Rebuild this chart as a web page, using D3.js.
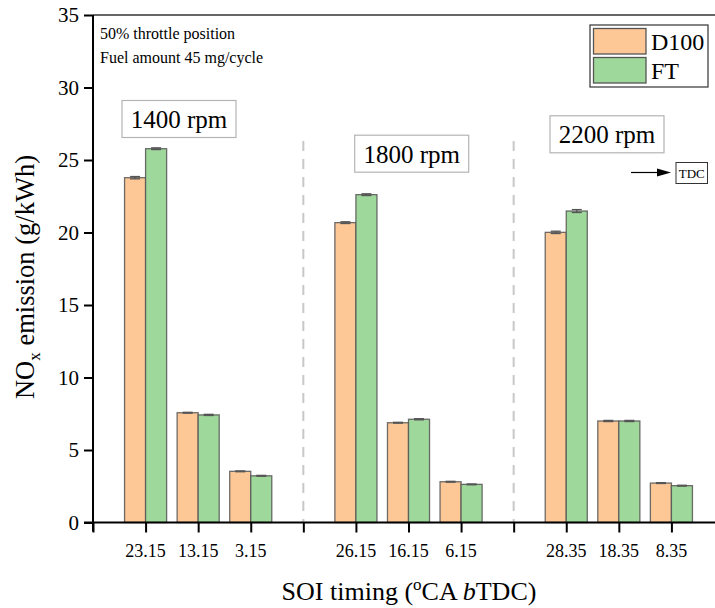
<!DOCTYPE html>
<html>
<head>
<meta charset="utf-8">
<script src="https://cdn.jsdelivr.net/npm/d3@7"></script>
<style>
  body { margin: 0; background: #fff; }
  svg text { font-family: "Liberation Serif", "Times New Roman", serif; }
</style>
</head>
<body>
<div id="chart"></div>
<script>
// SOI timings per engine speed (3 per group)
const speeds = ["1400 rpm", "1800 rpm", "2200 rpm"];
const soiLabels = ["23.15", "13.15", "3.15", "26.15", "16.15", "6.15", "28.35", "18.35", "8.35"];
const seriesNames = ["D100", "FT"];
const d100 = [23.78, 7.57, 3.53, 20.68, 6.88, 2.81, 20.01, 7.0, 2.72];
const ft = [25.78, 7.42, 3.22, 22.61, 7.12, 2.63, 21.48, 7.0, 2.54];
const d100Err = [0.08, 0.03, 0.03, 0.06, 0.03, 0.03, 0.08, 0.04, 0.03];
const ftErr = [0.06, 0.04, 0.03, 0.06, 0.04, 0.03, 0.1, 0.04, 0.03];
const yTicks = [0, 5, 10, 15, 20, 25, 30, 35];

const W = 715, H = 608;
const FONT = "Liberation Serif";
const colors = {D100: "#fdc896", FT: "#9fd89b"};

const svg = d3.select("#chart").append("svg")
    .attr("width", W)
    .attr("height", H)
    .attr("font-family", FONT);

// slot 0,4,8,12 are blank separators; bars sit on the others
const slot = i => Math.floor(i / 3) * 4 + (i % 3) + 1;

const x = d3.scaleLinear().domain([0, 12]).range([93, 724]);
const y = d3.scaleLinear().domain([0, 35]).range([522.5, 15]);
const barW = (x(1) - x(0)) * 0.4;

const rows = [];
soiLabels.forEach((s, i) => {
    rows.push({series: "D100", i, v: d100[i], e: d100Err[i]});
    rows.push({series: "FT", i, v: ft[i], e: ftErr[i]});
});

// dashed separators between speed groups
svg.selectAll(".sep")
    .data([4, 8])
    .enter().append("line")
    .attr("x1", d => x(d)).attr("x2", d => x(d))
    .attr("y1", 141).attr("y2", y(0))
    .attr("stroke", "#c8c8c8")
    .attr("stroke-width", 2)
    .attr("stroke-dasharray", "10,8");

// bars
svg.selectAll(".bar")
    .data(rows)
    .enter().append("rect")
    .attr("x", d => d.series === "D100" ? x(slot(d.i)) - barW : x(slot(d.i)))
    .attr("y", d => y(d.v))
    .attr("width", barW)
    .attr("height", d => y(0) - y(d.v))
    .attr("fill", d => colors[d.series])
    .attr("stroke", "#555")
    .attr("stroke-opacity", 0.85)
    .attr("stroke-width", 1.3);

// error bars
const eb = svg.selectAll(".err")
    .data(rows)
    .enter().append("g")
    .attr("transform", d => `translate(${d.series === "D100" ? x(slot(d.i)) - barW / 2 : x(slot(d.i)) + barW / 2},0)`)
    .attr("stroke", "#555")
    .attr("stroke-width", 1.3);
eb.append("line").attr("y1", d => y(d.v + d.e)).attr("y2", d => y(d.v - d.e));
eb.append("line").attr("x1", -5).attr("x2", 5).attr("y1", d => y(d.v + d.e)).attr("y2", d => y(d.v + d.e));
eb.append("line").attr("x1", -5).attr("x2", 5).attr("y1", d => y(d.v - d.e)).attr("y2", d => y(d.v - d.e));

// top frame
svg.append("line")
    .attr("x1", x(0)).attr("x2", W)
    .attr("y1", y(35)).attr("y2", y(35))
    .attr("stroke", "#333").attr("stroke-width", 1.5);

// y axis
const yAxis = svg.append("g")
    .attr("transform", `translate(${x(0)},0)`)
    .call(d3.axisLeft(y).tickValues(yTicks).tickSize(9).tickPadding(5));
yAxis.attr("font-family", FONT);
yAxis.select(".domain").attr("stroke-width", 2).attr("d", `M0,${y(0) + 9}V${y(35)}`);
yAxis.selectAll(".tick line").attr("stroke-width", 2);
yAxis.selectAll(".tick text").attr("font-size", 21).attr("fill", "#000");

// x axis
const xAxis = svg.append("g")
    .attr("transform", `translate(0,${y(0)})`)
    .call(d3.axisBottom(x).tickValues(d3.range(0, 13)).tickSize(10).tickFormat(() => ""));
xAxis.select(".domain").attr("stroke-width", 2).attr("d", `M${x(0) - 9},0H${W}`);
xAxis.selectAll(".tick line").attr("stroke-width", 2);

svg.selectAll(".xlab")
    .data(soiLabels)
    .enter().append("text")
    .attr("x", (d, i) => x(slot(i)))
    .attr("y", 557)
    .attr("text-anchor", "middle")
    .attr("font-size", 18)
    .text(d => d);

// axis titles
const xt = svg.append("text")
    .attr("x", 409).attr("y", 600)
    .attr("text-anchor", "middle")
    .attr("font-size", 26);
xt.append("tspan").text("SOI timing (");
xt.append("tspan").attr("font-size", 17).attr("dy", -10).text("o");
xt.append("tspan").attr("dy", 10).text("CA ");
xt.append("tspan").attr("font-style", "italic").text("b");
xt.append("tspan").text("TDC)");

const yt = svg.append("text")
    .attr("transform", "translate(34,277) rotate(-90)")
    .attr("text-anchor", "middle")
    .attr("font-size", 26.5);
yt.append("tspan").text("NO");
yt.append("tspan").attr("font-size", 17).attr("dy", 6).text("x");
yt.append("tspan").attr("dy", -6).text(" emission (g/kWh)");

// condition note
svg.append("text").attr("x", 100).attr("y", 39).attr("font-size", 16).text("50% throttle position");
svg.append("text").attr("x", 100).attr("y", 63).attr("font-size", 16).text("Fuel amount 45 mg/cycle");

// speed labels
const speedPos = [[179, 119], [411.7, 153.7], [607, 134.3]];
speeds.forEach((s, k) => {
    const g = svg.append("g").attr("transform", `translate(${speedPos[k][0]},${speedPos[k][1]})`);
    g.append("rect").attr("x", -57).attr("y", -18.5).attr("width", 114).attr("height", 37)
        .attr("fill", "#fff").attr("stroke", "#b4b4b4").attr("stroke-width", 1.2);
    g.append("text").attr("text-anchor", "middle").attr("y", 9).attr("font-size", 25).text(s);
});

// legend
const lg = svg.append("g");
lg.append("rect").attr("x", 590).attr("y", 25).attr("width", 118).attr("height", 62)
    .attr("fill", "#fff").attr("stroke", "#333").attr("stroke-width", 1.2);
seriesNames.forEach((n, k) => {
    lg.append("rect").attr("x", 593.5).attr("y", 28.5 + k * 29).attr("width", 52.5).attr("height", 25.5)
        .attr("fill", colors[n]).attr("stroke", "#555").attr("stroke-width", 1.3);
    lg.append("text").attr("x", 651).attr("y", 50 + k * 28.5).attr("font-size", 24).text(n);
});

// TDC arrow
svg.append("line").attr("x1", 631).attr("x2", 660).attr("y1", 172.5).attr("y2", 172.5)
    .attr("stroke", "#000").attr("stroke-width", 1.2);
svg.append("path").attr("d", "M657,168.5L671,172.5L657,176.5Z").attr("fill", "#000");
svg.append("rect").attr("x", 676).attr("y", 162.5).attr("width", 31.5).attr("height", 21)
    .attr("fill", "#fff").attr("stroke", "#333").attr("stroke-width", 1);
svg.append("text").attr("x", 691.75).attr("y", 178).attr("text-anchor", "middle")
    .attr("font-size", 13).text("TDC");

svg.selectAll("text").attr("font-family", FONT);
</script>
</body>
</html>
